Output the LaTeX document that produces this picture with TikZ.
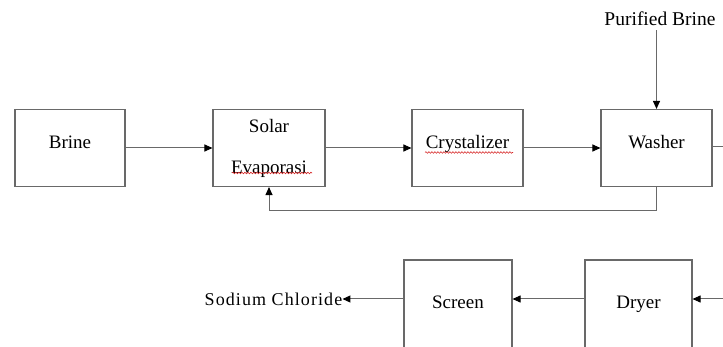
\documentclass[tikz,border=0pt]{standalone}
\usepackage{fontspec}
\setmainfont{Liberation Serif}
\usetikzlibrary{arrows.meta,decorations.pathmorphing}

\definecolor{linegray}{RGB}{105,105,105}
\definecolor{squiggle}{RGB}{215,40,40}

\tikzset{
  box/.style={draw=linegray, line width=1.1pt, fill=white, inner sep=0pt,
              font=\fontsize{19}{22}\selectfont},
  toprow/.style={box, minimum height=77pt, text height=13pt, text depth=11pt},
  botrow/.style={box, minimum height=100pt, text height=13pt, text depth=16pt},
  flow/.style={draw=linegray, line width=1pt,
               -{Triangle[length=8pt,width=7pt,color=black,fill=black]}},
  plainflow/.style={draw=linegray, line width=1pt},
  tag/.style={inner sep=0pt, font=\fontsize{19}{22}\selectfont},
  spell/.style={draw=squiggle, line width=0.6pt,
                decorate, decoration={snake, segment length=3pt, amplitude=0.8pt}}
}

\begin{document}
\begin{tikzpicture}[x=1pt, y=-1pt]
\useasboundingbox (0,0) rectangle (723,347);
\clip (0,0) rectangle (723,347);

% upper process line
\node[toprow, minimum width=110pt] (brine) at (70,148) {Brine};
\node[box, minimum width=112pt, minimum height=77pt, align=center,
      font=\fontsize{19}{41}\selectfont] (solar) at (269,148) {Solar\\Evaporasi};
\node[toprow, minimum width=111pt] (cryst) at (467.5,148) {Crystalizer};
\node[toprow, minimum width=111pt] (washer) at (656.5,148) {Washer};

\node[tag, font=\fontsize{19.5}{22}\selectfont] (purified) at (660,19) {Purified Brine};

% lower process line
\node[botrow, minimum width=108pt] (screen) at (458,310) {Screen};
\node[botrow, minimum width=107pt] (dryer) at (638.5,310) {Dryer};
\node[tag, font=\fontsize{18}{22}\selectfont\addfontfeature{LetterSpace=6}]
  (sodium) at (273.5,299) {Sodium Chloride};

% helper coordinates for loose line ends
\coordinate (fb) at (0,211);
\coordinate (row2) at (0,299);
\coordinate (washout) at (723,147);
\coordinate (dryin) at (723,299);

% connectors
\draw[flow] (brine) -- (solar);
\draw[flow] (solar) -- (cryst);
\draw[flow] (cryst) -- (washer);
\draw[flow] ([yshift=-4pt]purified.south -| washer.north) -- (washer.north);
\draw[flow] (washer.south) -- (washer.south |- fb) -| (solar.south);
\draw[plainflow] (washer.east |- washout) -- (washout);

\draw[flow] (dryin) -- (dryer.east |- dryin);
\draw[flow] (dryer.west |- row2) -- (screen.east |- row2);
\draw[flow] (screen.west |- row2) -- (sodium.east);

% spell-check squiggles under the two words
\draw[spell] (232,173) -- (312,173);
\draw[spell] (425,152.5) -- (513,152.5);
\end{tikzpicture}
\end{document}
